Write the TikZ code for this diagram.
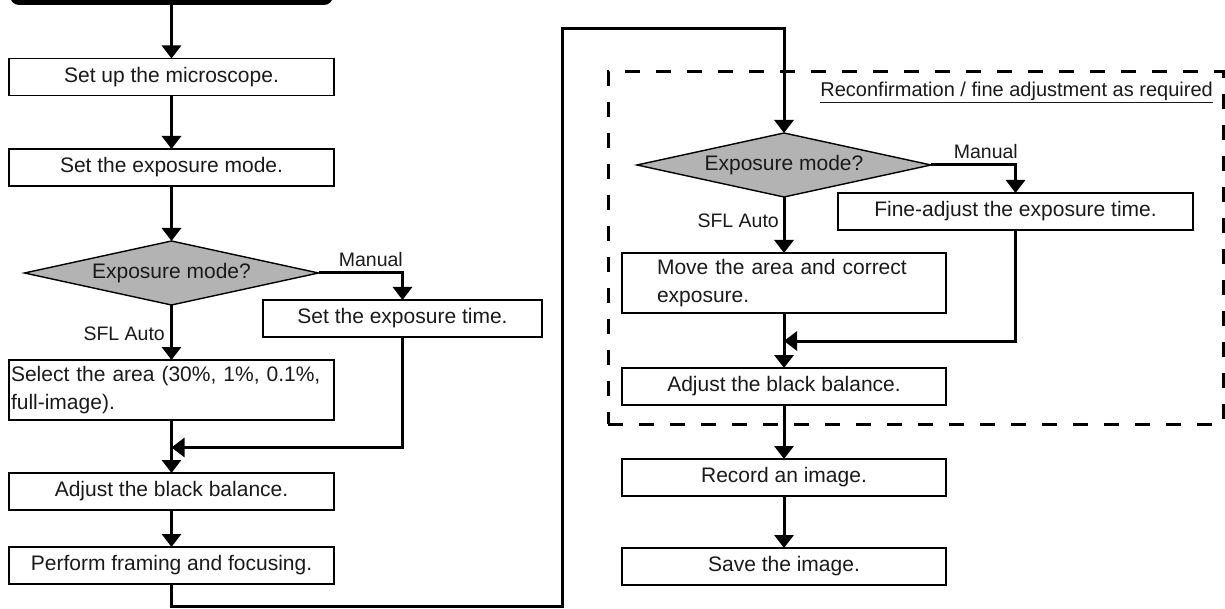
\documentclass[tikz,border=0pt]{standalone}
\usepackage{fontspec}
\setmainfont{Liberation Sans}
\usetikzlibrary{arrows.meta,shapes.geometric}
\definecolor{txt}{HTML}{1A1A1A}
\definecolor{dfill}{HTML}{B3B3B3}
\begin{document}
\begin{tikzpicture}[x=1pt,y=-1pt,
  box/.style={draw=black, line width=1.4pt, fill=white, inner sep=0pt, outer sep=0pt,
    minimum width=325pt, minimum height=37pt, text=txt, font=\fontsize{21}{28}\selectfont},
  dec/.style={diamond, shape aspect=4.6, draw=black, line width=1.4pt, fill=dfill, inner sep=0pt,
    outer sep=0pt, minimum width=294pt, minimum height=64pt, text=txt, font=\fontsize{21}{25}\selectfont},
  conn/.style={line width=3pt, -{Triangle[width=19pt,length=13pt]}},
  lbl/.style={font=\fontsize{19.5}{23}\selectfont, text=txt, inner sep=0pt},
  region/.style={draw=black, line width=3pt, dash pattern=on 15pt off 16pt, inner sep=0pt, outer sep=0pt},
]
\useasboundingbox (0,0) rectangle (1225,609);
\begin{scope}
\clip (0,0) rectangle (1225,609);
\node[fill=black, rounded corners=9pt, minimum width=323pt, minimum height=45pt, inner sep=0pt] (start) at (171.5,-17.5) {};
\end{scope}

% left column
\node[box] (b1) at (171.5,77) {Set up the microscope.};
\node[box] (b2) at (171.5,167.5) {Set the exposure mode.};
\node[dec] (d1) at (171.5,273) {Exposure mode?};
\node[box, minimum width=279pt] (t1) at (402.5,318.5) {Set the exposure time.};
\node[box, minimum height=60pt, text width=321pt, align=left] (b3) at (171.5,390) {Select the area (30\%, 1\%, 0.1\%,\\full-image).};
\node[box] (b4) at (171.5,491.5) {Adjust the black balance.};
\node[box] (b5) at (171.5,565.5) {Perform framing and focusing.};
\coordinate (m1) at (171.5,447.5);
\coordinate (q1) at (562,606);
\coordinate (q2) at (562,29);

\node[lbl, anchor=base east] (man1) at (403,267) {Manual};
\node[lbl, anchor=base east] (sfl1) at (165,340) {SFL Auto};

% right column
\node[region, minimum width=615pt, minimum height=352pt] (grp) at (915.5,248) {};
\node[anchor=base east, font=\fontsize{20}{24}\selectfont, text=txt, inner sep=0pt] (note) at (1213,97) {\underline{Reconfirmation / fine adjustment as required}};
\node[dec] (d2) at (784,165) {Exposure mode?};
\node[box, minimum width=355pt] (f1) at (1015.5,211.5) {Fine-adjust the exposure time.};
\node[box, minimum width=324pt, minimum height=60pt, text width=254pt, align=left] (mv) at (784,283) {Move the area and correct\\exposure.};
\node[box, minimum width=324pt] (a2) at (784,386.5) {Adjust the black balance.};
\node[box, minimum width=324pt] (rec) at (784,477.5) {Record an image.};
\node[box, minimum width=324pt] (sv) at (784,566.5) {Save the image.};
\coordinate (m2) at (784,341);

\node[lbl, anchor=base east] (man2) at (1018,159) {Manual};
\node[lbl, anchor=base east] (sfl2) at (779,228) {SFL Auto};

% connectors left
\draw[conn] (start.south) -- (b1.north);
\draw[conn] (b1.south) -- (b2.north);
\draw[conn] (b2.south) -- (d1.north);
\draw[conn] (d1.east) -| (t1.north);
\draw[conn] (d1.south) -- (b3.north);
\draw[conn] (b3.south) -- (b4.north);
\draw[conn] (t1.south) |- (m1);
\draw[conn] (b4.south) -- (b5.north);
\draw[conn] (b5.south) |- (q1) -- (q2) -| (d2.north);

% connectors right
\draw[conn] (d2.east) -| (f1.north);
\draw[conn] (d2.south) -- (mv.north);
\draw[conn] (mv.south) -- (a2.north);
\draw[conn] (f1.south) |- (m2);
\draw[conn] (a2.south) -- (rec.north);
\draw[conn] (rec.south) -- (sv.north);
\end{tikzpicture}
\end{document}
